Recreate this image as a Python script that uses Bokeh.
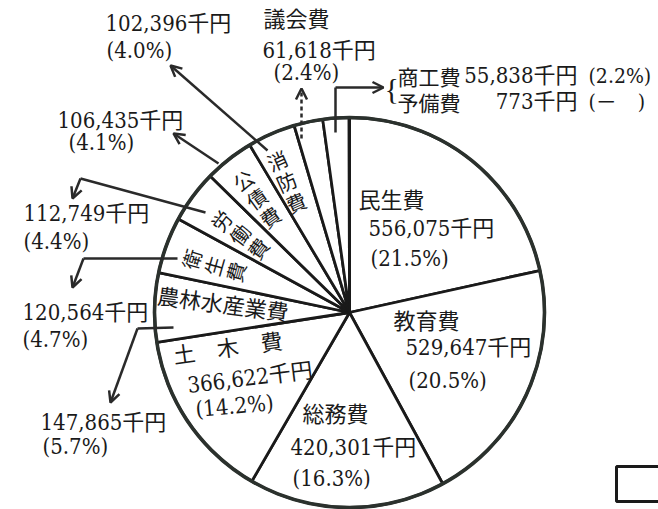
import math
from bokeh.plotting import figure
from bokeh.models import Range1d, Arrow, OpenHead
from bokeh.core.properties import value
from bokeh.embed import file_html
from bokeh.resources import INLINE

# ---- data ----
categories = ["民生費", "教育費", "総務費", "土木費", "農林水産業費", "衛生費",
              "労働費", "公債費", "消防費", "議会費", "商工費", "予備費"]
amounts = [556075, 529647, 420301, 366622, 147865, 120564,
           112749, 106435, 102396, 61618, 55838, 773]
percents = ["21.5", "20.5", "16.3", "14.2", "5.7", "4.7",
            "4.4", "4.1", "4.0", "2.4", "2.2", None]
unit = "千円"

H = 509
def Y(y):
    return H - y

MIX = "'DejaVu Serif Condensed', 'Liberation Serif', 'Noto Sans CJK JP'"
JP = "Noto Sans CJK JP"
TXT = "#1a1a1a"
LN = "#2a2a2a"

p = figure(width=658, height=509, x_range=Range1d(0, 658), y_range=Range1d(0, 509),
           output_backend="svg", toolbar_location=None, min_border=0)
p.axis.visible = False
p.grid.visible = False
p.outline_line_color = None
p.background_fill_color = "white"
p.border_fill_color = "white"

# ---- pie ----
total = sum(amounts)
cum = [0.0]
for a in amounts:
    cum.append(cum[-1] + a / total)
start = [math.pi / 2 - 2 * math.pi * c for c in cum[:-1]]
end = [math.pi / 2 - 2 * math.pi * c for c in cum[1:]]
CX, CY, R = 349, Y(312), 195
p.wedge(x=CX, y=CY, radius=R, start_angle=start, end_angle=end, direction="clock",
        fill_color="white", line_color="#1a1a1a", line_width=2.8)
p.circle(x=[CX], y=[CY], radius=R, fill_color=None, line_color="#2b312d", line_width=3.6)

def amt(i):
    return f"{amounts[i]:,}{unit}"

def pct(i):
    return f"({percents[i]}%)"

def txt(items, font=MIX, size="22px", align="left", baseline="middle"):
    xs = [t[1] for t in items]
    ys = [Y(t[2]) for t in items]
    ts = [t[0] for t in items]
    ang = [math.radians(t[3]) if len(t) > 3 else 0 for t in items]
    p.text(x=xs, y=ys, text=ts, angle=ang, text_font=value(font), text_font_size=size,
           text_align=align, text_baseline=baseline, text_color=TXT)

# ---- leaders ----
def leader(pts, dashed=False):
    xs = [q[0] for q in pts]
    ys = [Y(q[1]) for q in pts]
    dash = "4 3" if dashed else "solid"
    if len(pts) > 2:
        p.line(xs[:-1], ys[:-1], line_color=LN, line_width=2.5, line_dash=dash)
    p.add_layout(Arrow(end=OpenHead(size=11, line_width=2.5, line_color=LN),
                       x_start=xs[-2], y_start=ys[-2], x_end=xs[-1], y_end=ys[-1],
                       line_color=LN, line_width=2.5, line_dash=dash))

leader([(267, 150), (170, 65)])                       # 消防費
leader([(218, 163), (173, 133)])                      # 公債費
leader([(301, 138), (301, 88)], dashed=True)          # 議会費
leader([(335, 132), (335, 87), (383, 87)])            # 商工費・予備費
leader([(205, 212), (80, 178), (72, 198)])            # 労働費
leader([(177, 258), (83, 258), (72, 287)])            # 衛生費
leader([(173, 327), (137, 328), (110, 402)])          # 農林水産業費

# ---- outside labels ----
txt([
    (amt(8), 105, 23), (pct(8), 106, 50),                     # 消防費
    (categories[9], 263, 19), (amt(9), 262, 50), (pct(9), 273, 72),  # 議会費
    (amt(7), 57, 120), (pct(7), 68, 142),                     # 公債費
    (amt(6), 23, 213), (pct(6), 23, 241),                     # 労働費
    (amt(5), 22, 312), (pct(5), 22, 339),                     # 衛生費
    (amt(4), 40, 422), (pct(4), 42, 446),                     # 農林水産業費
])

# 商工費 / 予備費 block
txt([(categories[10], 397, 75), (categories[11], 397, 101)], font=JP, size="21px")
txt([(f"{amounts[10]:,}{unit}", 577, 75), (f"{amounts[11]:,}{unit}", 577, 101)],
    align="right")
txt([(f"({percents[10]}%)", 588, 75), ("(－　)", 588, 101)], size="21px")
txt([("{", 384, 88)], font="Liberation Serif", size="30px")

# ---- inside labels ----
txt([
    (categories[0], 358, 200), (amt(0), 368, 228), (pct(0), 370, 258),
    (categories[1], 393, 321), (amt(1), 405, 347), (pct(1), 408, 380),
    (categories[2], 302, 414), (amt(2), 290, 447), (pct(2), 292, 478),
])
txt([
    ("土　木　費", 173, 356, 8),
    (amt(3), 187, 385, 7),
    (pct(3), 195, 409, 5),
    (categories[4], 157, 296, -7.5),
], size="22px")

# vertical labels (rotated columns)
vert = [(8, 286, 181, 24), (7, 256, 198, 36), (6, 239, 234, 53), (5, 213, 265, 74)]
pitch = 23
vitems = []
for idx, cx, cy, a in vert:
    chars = list(categories[idx])
    th = math.radians(a)
    n = len(chars)
    for k, ch in enumerate(chars):
        off = (k - (n - 1) / 2) * pitch
        vx = cx + off * math.sin(th)
        vy = cy + off * math.cos(th)   # image y grows downward
        vitems.append((ch, vx, vy, a))
txt(vitems, font=JP, size="20px", align="center")

# box at lower right
p.quad(left=[616], right=[700], top=[Y(466)], bottom=[Y(501)],
       fill_color=None, line_color="#1a1a1a", line_width=3)

open("out.html", "w").write(file_html(p, INLINE))
